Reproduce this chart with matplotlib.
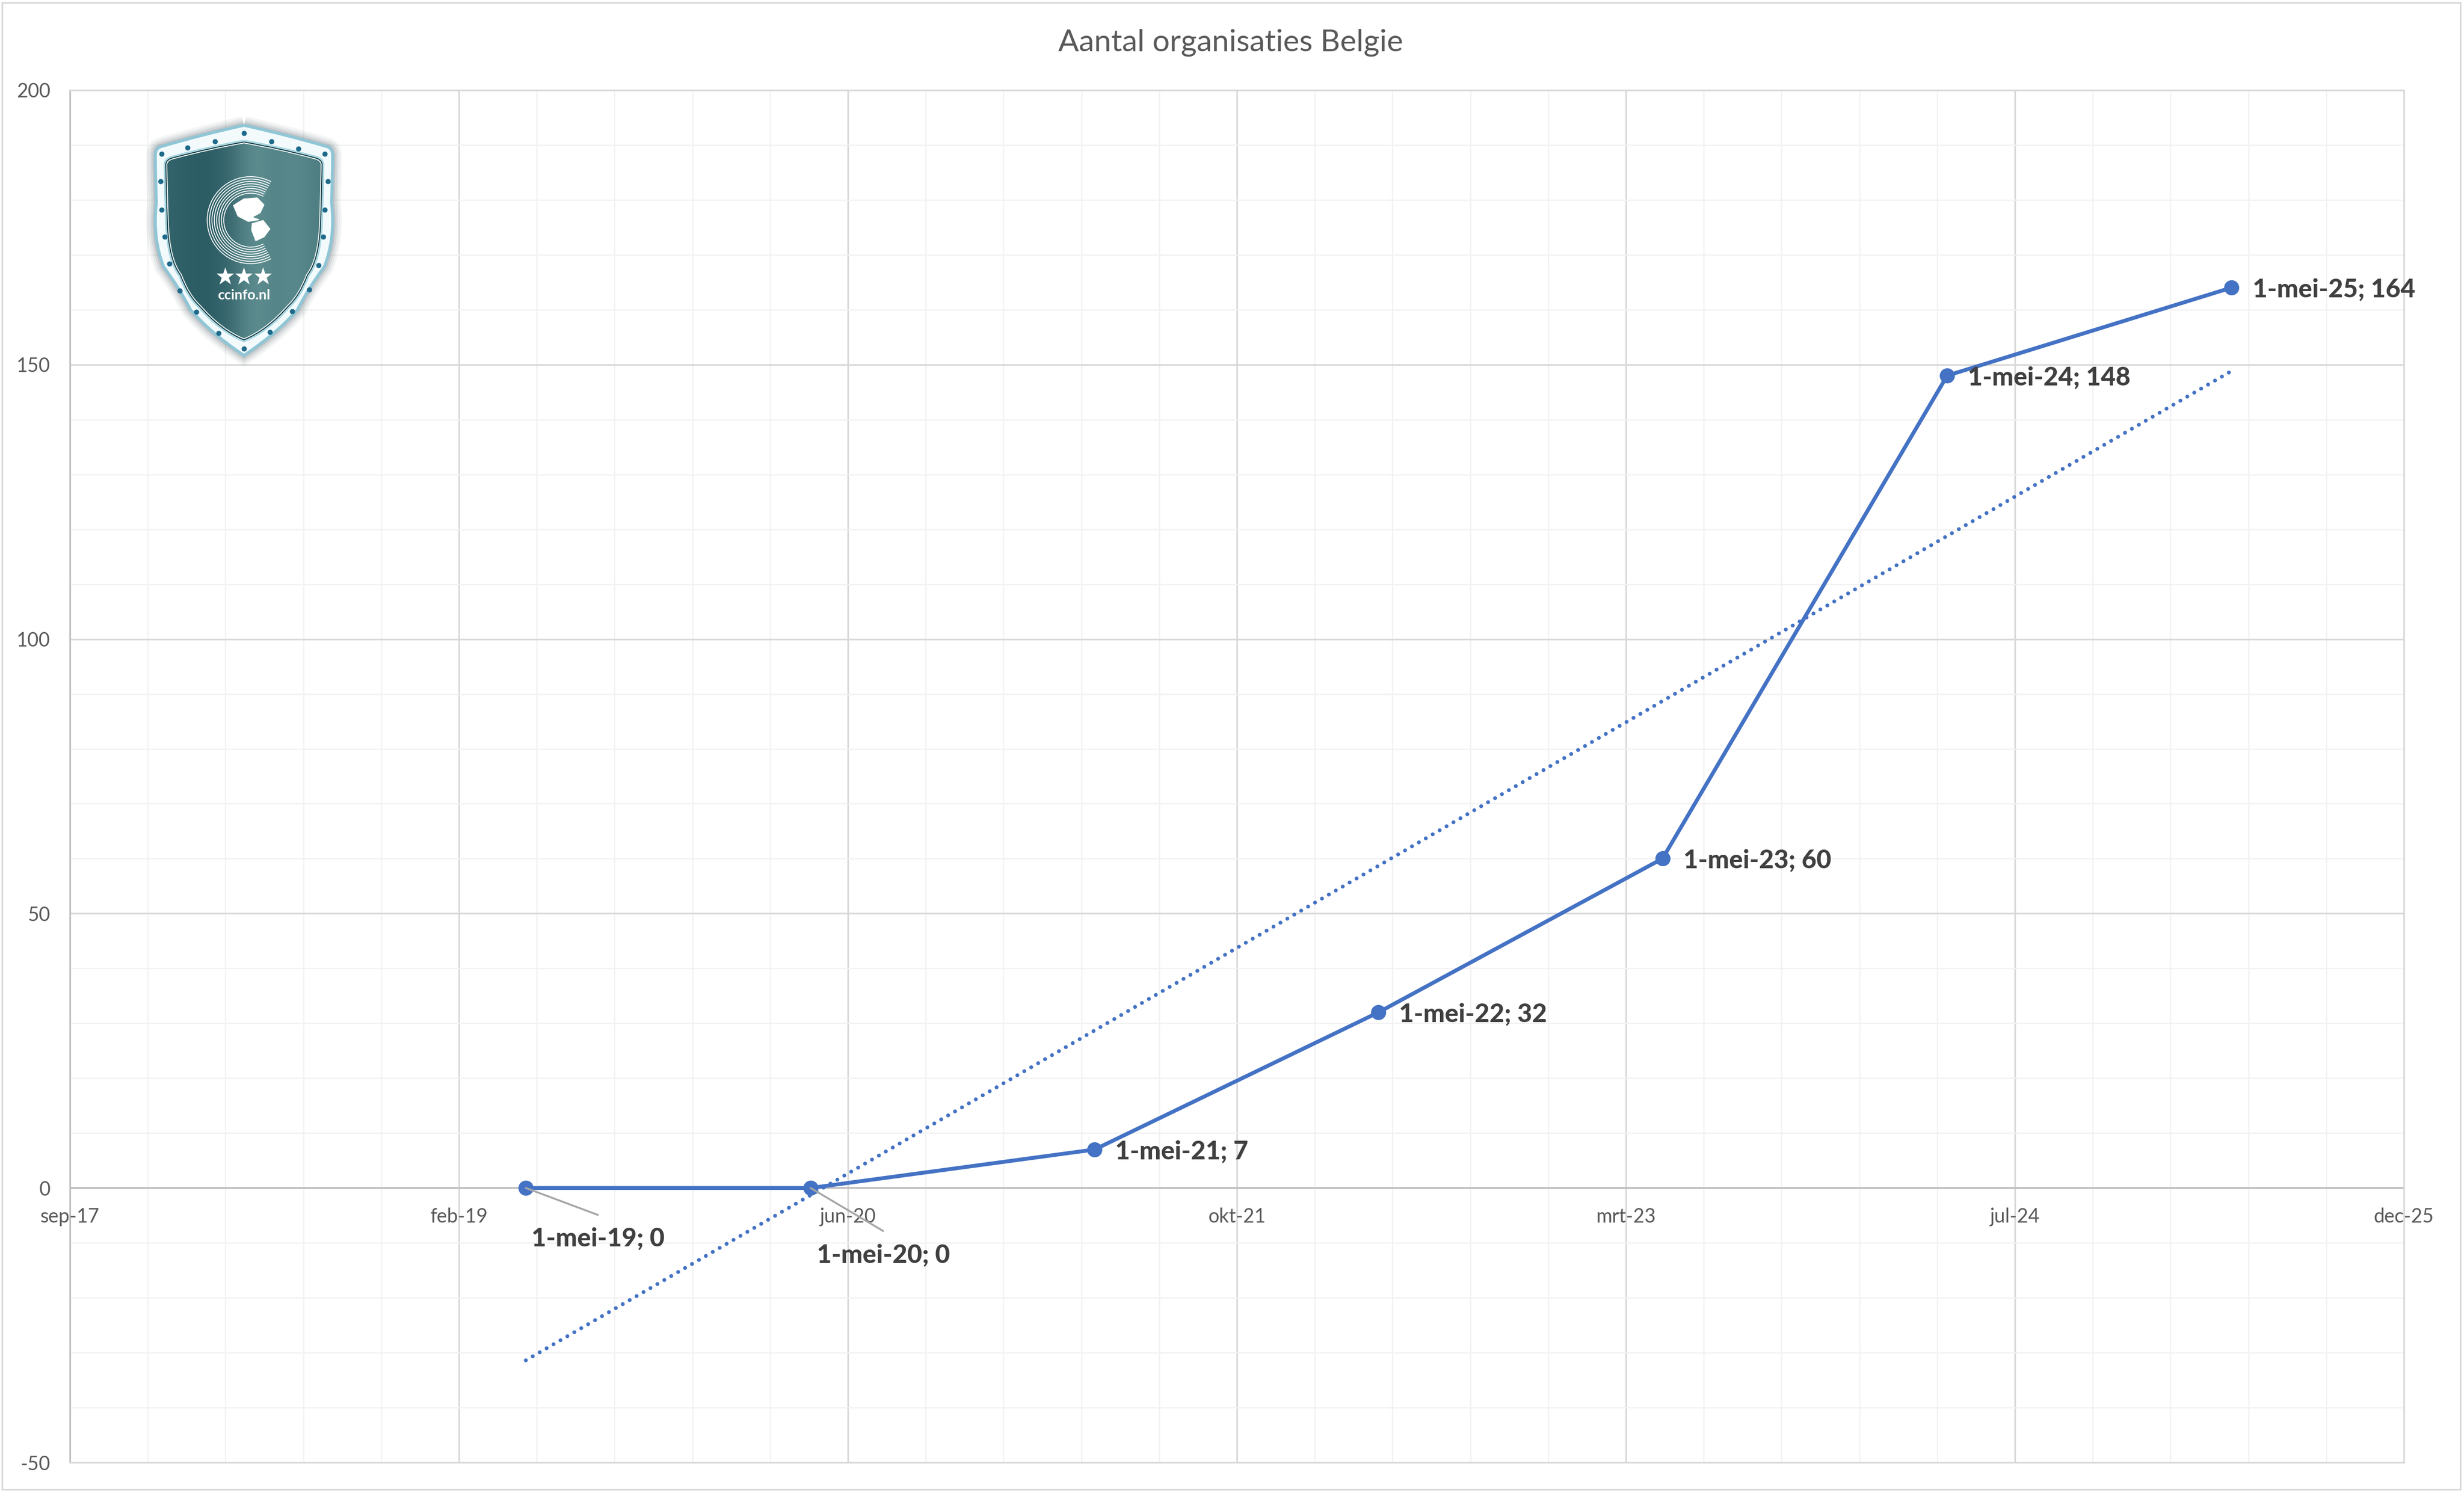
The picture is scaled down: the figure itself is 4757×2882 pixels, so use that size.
import numpy as np
import pandas as pd
import matplotlib
matplotlib.use("Agg")
import matplotlib.pyplot as plt
import matplotlib.dates as mdates
from matplotlib.path import Path
from matplotlib.patches import PathPatch, Arc, Rectangle, Polygon

W, H = 4757, 2882
DPI = 100
plt.rcParams['font.family'] = ['Lato', 'DejaVu Sans']
plt.rcParams['axes.unicode_minus'] = False

# ---- data ----
dates = ["2019-05-01", "2020-05-01", "2021-05-01", "2022-05-01", "2023-05-01", "2024-05-01", "2025-05-01"]
values = [0, 0, 7, 32, 60, 148, 164]
point_labels = ["1-mei-19; 0", "1-mei-20; 0", "1-mei-21; 7", "1-mei-22; 32", "1-mei-23; 60", "1-mei-24; 148", "1-mei-25; 164"]
trend_dates = ["2019-05-01", "2025-05-01"]
trend_values = [-31.4, 148.8]
x_tick_dates = ["2017-09-22", "2019-02-04", "2020-06-18", "2021-10-31", "2023-03-15", "2024-07-27", "2025-12-09"]
x_tick_labels = ["sep-17", "feb-19", "jun-20", "okt-21", "mrt-23", "jul-24", "dec-25"]
y_ticks = [-50, 0, 50, 100, 150, 200]
title = "Aantal organisaties Belgie"

BLUE = "#4472C4"
TXT = "#595959"
LBL = "#404040"

fig = plt.figure(figsize=(W / DPI, H / DPI), dpi=DPI, facecolor="white")
L, R, T, B = 135, 4641, 174, 2823
ax = fig.add_axes([L / W, 1 - B / H, (R - L) / W, (B - T) / H])

xd = mdates.date2num(pd.to_datetime(dates))
td = mdates.date2num(pd.to_datetime(trend_dates))
xt = mdates.date2num(pd.to_datetime(x_tick_dates))

ax.set_xlim(xt[0], xt[-1])
ax.set_ylim(y_ticks[0], y_ticks[-1])
ax.set_xticks(xt)
ax.set_xticklabels([""] * len(xt))
ax.set_yticks(y_ticks)
ax.set_xticks(np.arange(xt[0], xt[-1] + 1, 100), minor=True)
ax.set_yticks(np.arange(y_ticks[0], y_ticks[-1] + 1, 10), minor=True)
ax.grid(which="major", color="#D9D9D9", lw=2.3, zorder=1)
ax.grid(which="minor", color="#F2F2F2", lw=1.8, zorder=0)
ax.set_axisbelow(True)
ax.tick_params(which="both", length=0)
ax.tick_params(axis="y", labelsize=27, labelcolor=TXT, pad=27)
# x labels sit just under the y=0 axis line
for xv, s in zip(xt, x_tick_labels):
    ax.annotate(s, (xv, 0), xytext=(0, -40), textcoords="offset points", ha="center", va="center",
                fontsize=27, color=TXT, zorder=3, annotation_clip=False)
for sp in ["top", "right", "bottom"]:
    ax.spines[sp].set_color("#D9D9D9")
    ax.spines[sp].set_linewidth(2.3)
ax.spines["left"].set_color("#BFBFBF")
ax.spines["left"].set_linewidth(2.3)
ax.axhline(0, color="#BFBFBF", lw=2.6, zorder=2)

ax.plot(td, trend_values, color=BLUE, lw=5.4, ls=(0, (0.01, 2.05)), dash_capstyle="round", zorder=4)
ax.plot(xd, values, color=BLUE, lw=5.4, marker="o", ms=20, solid_capstyle="round", zorder=5, clip_on=False)

# data labels: offset in px from the point
offsets = [(11, -98), (12, -130), (40, -4), (40, -4), (40, -4), (40, -4), (41, -4)]
leaders = [(139, -52), (140, -83), None, None, None, None, None]
for xv, yv, s, (ox, oy), ld in zip(xd, values, point_labels, offsets, leaders):
    ax.annotate(s, (xv, yv), xytext=(ox * .72, oy * .72), textcoords="offset points", ha="left", va="center",
                fontsize=35.5, fontweight=900, color=LBL, zorder=7, annotation_clip=False)
    if ld:
        ax.annotate("", (xv, yv), xytext=(ld[0] * .72, ld[1] * .72), textcoords="offset points",
                    arrowprops=dict(arrowstyle="-", color="#A6A6A6", lw=2.6, shrinkA=0, shrinkB=0), zorder=6)

fig.text(2376 / W, 1 - 82 / H, title, ha="center", va="center", fontsize=42.5, color=TXT)

# outer chart frame
fig.add_artist(Rectangle((4 / W, 1 - 2875 / H), (4750 - 4) / W, (2875 - 5) / H, transform=fig.transFigure,
                         fill=False, ec="#D9D9D9", lw=2.3))

# ---- logo, drawn in figure pixel coordinates ----
lg = fig.add_axes([0, 0, 1, 1], facecolor="none", zorder=10)
lg.set_axis_off()


def zx(v):
    return v / 1.742


def zy(v):
    return 100 + v / 2.412


def shield(top, sh1, sh2, s1, s2, s3, bot, cx=471.0):
    """closed bezier shield outline, symmetric about cx."""
    r = [top, sh1, sh2, s1, s2, s3, bot]
    pts = [r[0], ((r[0][0] + r[1][0]) / 2, (r[0][1] + r[1][1]) / 2 - 3), r[1], (r[2][0], r[1][1] + 3), r[2],
           (r[3][0] + 2, (r[2][1] + r[3][1]) / 2), r[3], (r[4][0] + 22, r[3][1] + 70), r[4],
           (r[5][0] + 22, r[4][1] + 40), r[5], (r[5][0] - 40, r[5][1] + 46), r[6]]
    codes = [Path.MOVETO] + [Path.CURVE3] * 12
    mir = [(2 * cx - p[0], p[1]) for p in pts[::-1][1:]]
    return Path(pts + mir, codes + [Path.CURVE3] * len(mir))


outer = shield((471, 242), (631, 283), (642, 299), (640, 390), (626, 515), (574, 598), (471, 686))
inner = shield((471, 276), (606, 306), (620, 318), (617, 432), (592, 530), (555, 590), (471, 654))
for lw, a in [(26, .05), (20, .07), (14, .10), (8, .14)]:
    lg.add_patch(PathPatch(outer, fc="none", ec="#30474D", lw=lw, alpha=a, zorder=1))
lg.add_patch(PathPatch(outer, fc="#F2FAFC", ec="#8FC6D6", lw=4, zorder=2))
lg.add_patch(PathPatch(inner, fc="none", ec="#A9D7E2", lw=9, zorder=2.5))
lg.add_patch(PathPatch(inner, fc="#3F6F73", ec="#12343C", lw=4, zorder=3))
grad = np.array([[0.15, 0.05, 0.0, 0.1, 0.3, 0.75, 1.0, 0.8, 0.85, 0.9, 0.7]])
cm = matplotlib.colors.LinearSegmentedColormap.from_list("t", ["#2B5B63", "#5E8E90"])
im = lg.imshow(grad, extent=(322, 620, 654, 276), aspect="auto", cmap=cm, interpolation="bicubic", zorder=3.2)
im.set_clip_path(PathPatch(inner, transform=lg.transData))
lg.add_patch(PathPatch(inner, fc="none", ec="#E6F0F0", lw=1.4, zorder=3.4))

dots_z = [(820, 378), (723, 418), (630, 447), (544, 474), (540, 604), (544, 736), (554, 860), (569, 987), (604, 1112),
          (660, 1212), (735, 1310), (820, 1381), (913, 418), (1003, 451), (1092, 474), (1102, 604), (1092, 736),
          (1087, 860), (1072, 994), (1040, 1108), (982, 1208), (908, 1306)]
lg.plot([zx(p[0]) for p in dots_z], [zy(p[1]) for p in dots_z], ls="none", marker="o", ms=6.2, color="#1F6A8A", zorder=4)

for r in np.linspace(84, 52, 8):
    lg.add_patch(Arc((484, 425), 2 * r, 2 * r, theta1=62, theta2=298, ec="white", lw=1.2, zorder=5))
n_am = [(785, 715), (820, 685), (865, 680), (888, 712), (875, 750), (848, 770), (872, 782), (835, 790), (800, 765)]
s_am = [(848, 800), (885, 785), (908, 825), (888, 862), (860, 880), (846, 830)]
lg.add_patch(Polygon([(zx(a), zy(b)) for a, b in n_am], fc="white", ec="white", lw=1, zorder=5))
lg.add_patch(Polygon([(zx(a), zy(b)) for a, b in s_am], fc="white", ec="white", lw=1, zorder=5))
lg.plot([zx(757), zx(821), zx(885)], [zy(1048)] * 3, ls="none", marker="*", ms=26, color="white", mew=0, zorder=5)
lg.text(471, zy(1133), "ccinfo.nl", color="white", fontsize=19.5, fontweight="bold", ha="center", va="center", zorder=5)
lg.set_xlim(0, W)
lg.set_ylim(H, 0)

fig.savefig("out.png", dpi=DPI, facecolor="white")
